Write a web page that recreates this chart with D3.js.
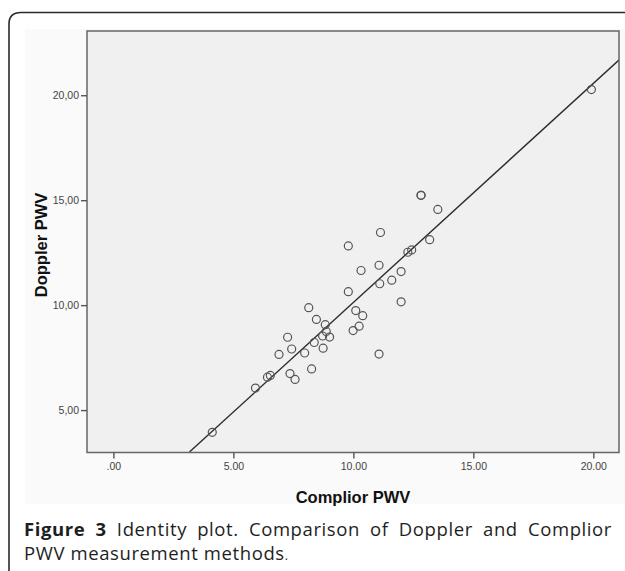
<!DOCTYPE html>
<html><head><meta charset="utf-8">
<script src="https://cdn.jsdelivr.net/npm/d3@7"></script>
<style>body{margin:0;background:#fff}svg{display:block}</style>
</head><body>
<script>
// Data
const complior = [12.82,12.82,13.52,11.13,13.18,9.79,12.27,12.43,11.07,10.32,11.99,11.60,11.10,9.79,11.99,8.14,10.10,10.39,8.46,8.83,10.24,8.87,9.99,8.72,9.01,7.26,8.37,7.43,8.74,7.97,6.90,11.07,8.26,6.54,6.42,7.36,7.57,5.92,4.12,19.92];
const doppler  = [15.23,15.23,14.56,13.46,13.12,12.82,12.52,12.63,11.90,11.65,11.60,11.19,11.02,10.64,10.16,9.88,9.74,9.50,9.32,9.07,9.00,8.75,8.79,8.53,8.48,8.47,8.22,7.91,7.95,7.72,7.65,7.67,6.96,6.65,6.57,6.74,6.46,6.05,3.94,20.27];
const xTicks = [0,5,10,15,20];
const yTicks = [5,10,15,20];
const xTickLabels = [".00","5.00","10.00","15.00","20.00"];
const yTickLabels = ["5,00","10,00","15,00","20,00"];
const refLineX = [3.17, 21.10];
const refLineY = [3.00, 21.71];

const W=625,H=571;
const svg=d3.select("body").append("svg").attr("width",W).attr("height",H);

// outer frame
svg.append("path")
  .attr("d",`M9,${H+5} L9,24 Q9,12.5 21,12.5 L${W+5},12.5`)
  .attr("fill","none").attr("stroke","#2a2a2a").attr("stroke-width",1.6);
// light panel
svg.append("rect").attr("x",25).attr("y",29).attr("width",W-25).attr("height",475).attr("fill","#fafafa");

const L=87,T=31,R=619,B=452.5;
const x=d3.scaleLinear().domain([-1.10,21.07]).range([L,R]);
const y=d3.scaleLinear().domain([2.98,23.06]).range([B,T]);

const defs=svg.append("defs");
defs.append("clipPath").attr("id","clip").append("rect").attr("x",L).attr("y",T).attr("width",R-L).attr("height",B-T);

svg.append("rect").attr("x",L).attr("y",T).attr("width",R-L).attr("height",B-T)
  .attr("fill","#f0f0f0");

const g=svg.append("g").attr("clip-path","url(#clip)");
g.append("line")
  .attr("x1",x(refLineX[0])).attr("y1",y(refLineY[0]))
  .attr("x2",x(refLineX[1])).attr("y2",y(refLineY[1]))
  .attr("stroke","#2b2b2b").attr("stroke-width",1.4);

g.selectAll("circle").data(complior.map((c,i)=>[c,doppler[i]])).enter().append("circle")
  .attr("cx",d=>x(d[0])).attr("cy",d=>y(d[1])).attr("r",4)
  .attr("fill","none").attr("stroke","#555").attr("stroke-width",1.2);

svg.append("rect").attr("x",L).attr("y",T).attr("width",R-L).attr("height",B-T)
  .attr("fill","none").attr("stroke","#666").attr("stroke-width",1.5);

// axes
const xAxis=d3.axisBottom(x).tickValues(xTicks).tickSize(6).tickPadding(4)
  .tickFormat((d,i)=>xTickLabels[i]);
const xa=svg.append("g").attr("transform",`translate(0,${B})`).call(xAxis);
const yAxis=d3.axisLeft(y).tickValues(yTicks).tickSize(6).tickPadding(2)
  .tickFormat((d,i)=>yTickLabels[i]);
const ya=svg.append("g").attr("transform",`translate(${L},0)`).call(yAxis);
[xa,ya].forEach(a=>{
  a.select(".domain").remove();
  a.selectAll("line").attr("stroke","#555").attr("stroke-width",1.4);
  a.selectAll("text").attr("fill","#444").attr("font-family","Liberation Sans, Arial, sans-serif").attr("font-size",10.5);
});

svg.append("text").attr("x",353).attr("y",503).attr("text-anchor","middle")
  .attr("font-family","Liberation Sans, Arial, sans-serif").attr("font-weight","bold").attr("font-size",16.5)
  .attr("fill","#111").text("Complior PWV");
svg.append("text").attr("transform","translate(47,245) rotate(-90)").attr("text-anchor","middle")
  .attr("font-family","Liberation Sans, Arial, sans-serif").attr("font-weight","bold").attr("font-size",16.5)
  .attr("fill","#111").text("Doppler PWV");

// caption
const capFont="Open Sans, sans-serif", capSize=18.5;
const cap1=svg.append("text").attr("x",24).attr("y",536)
  .attr("font-family",capFont).attr("font-size",capSize).attr("fill","#1e1e1e")
  .attr("letter-spacing",0.6);
cap1.append("tspan").attr("font-weight","bold").text("Figure 3 ");
cap1.append("tspan").text("Identity plot. Comparison of Doppler and Complior");
// justify line 1 by widening word spaces
const w1=cap1.node().getComputedTextLength();
const ws=Math.max(0,(612-24-w1)/8);
cap1.attr("word-spacing",ws);
const cap2=svg.append("text").attr("x",24).attr("y",560)
  .attr("font-family",capFont).attr("font-size",capSize).attr("fill","#1e1e1e")
  .attr("letter-spacing",0.6);
cap2.append("tspan").text("PWV measurement methods");
cap2.append("tspan").attr("font-size",12).text(".");
</script>
</body></html>
